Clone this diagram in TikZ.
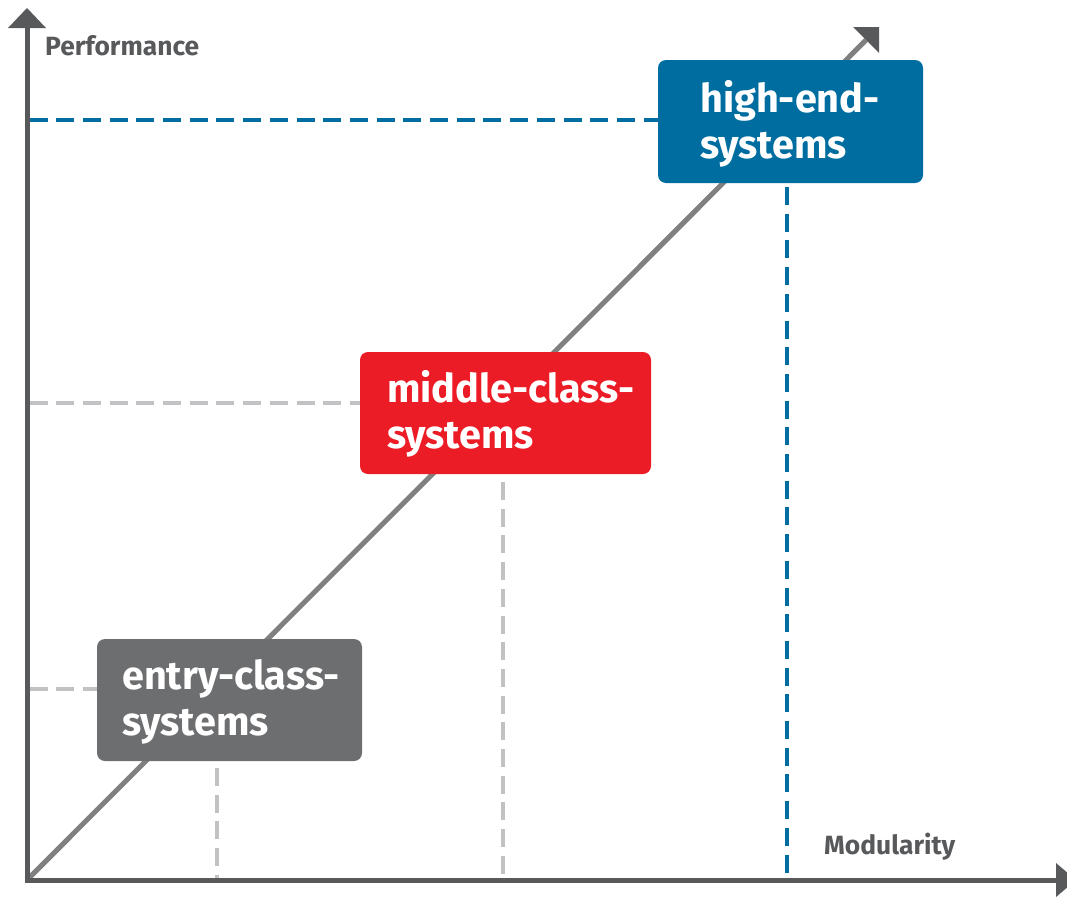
\documentclass[tikz,border=0pt]{standalone}
\usepackage{fontspec}
\setmainfont{Fira Sans}
\definecolor{axisgray}{HTML}{58595B}
\definecolor{diaggray}{HTML}{808080}
\definecolor{lightgray}{HTML}{C2C2C4}
\definecolor{hiblue}{HTML}{006DA0}
\definecolor{midred}{HTML}{EC1C27}
\definecolor{entrygray}{HTML}{6D6E70}
\begin{document}
\begin{tikzpicture}[x=1pt,y=-1pt,
  axis/.style={line width=5pt, draw=axisgray},
  guide/.style={line width=3.8pt, dash pattern=on 18pt off 8.7pt},
  box/.style={rounded corners=8pt, inner sep=0pt},
  boxtext/.style={anchor=base west, font=\fontsize{39.6}{46}\selectfont\bfseries, text=white, inner sep=0pt, align=left},
  axlabel/.style={font=\fontsize{26.4}{30}\selectfont\bfseries, text=axisgray, inner sep=0pt, anchor=base west}]
\useasboundingbox (0,0) rectangle (1067,897);
\clip (0,0) rectangle (1067,897);
% coordinates
\coordinate (O) at (27,880);
\coordinate (ytop) at (27,27);
\coordinate (xend) at (1056,880);
\coordinate (dend) at (866,40);
% guides
\draw[guide, draw=hiblue] (29.5,120) -- (658,120);
\draw[guide, draw=hiblue] (787,187) -- (787,878);
\draw[guide, draw=lightgray] (29.5,403) -- (360,403);
\draw[guide, draw=lightgray] (503,482) -- (503,878);
\draw[guide, draw=lightgray] (29.5,689) -- (97,689);
\draw[guide, draw=lightgray] (217,768) -- (217,878);
% diagonal
\draw[line width=5pt, draw=diaggray] (O) -- (dend);
\fill[axisgray] (853,27) -- (879,27) -- (879,53) -- cycle;
% axes
\draw[axis] (27,882.5) -- (ytop);
\fill[axisgray] (8,28) -- (46,28) -- (27,8) -- cycle;
\draw[axis] (24.5,880) -- (xend);
\fill[axisgray] (1056,863) -- (1056,897) -- (1076,880) -- cycle;
% labels
\node[axlabel] (perf) at (45,55) {Performance};
\node[axlabel] (modu) at (824,854) {Modularity};
% boxes
\fill[box, hiblue] (658,60) rectangle (923,183);
\node[boxtext] (hi) at (700,158) {high-end-\\systems};
\fill[box, midred] (360,352) rectangle (651,474);
\node[boxtext] (mid) at (387,448) {middle-class-\\systems};
\fill[box, entrygray] (97,639) rectangle (362,761);
\node[boxtext] (entry) at (122,735) {entry-class-\\systems};
\end{tikzpicture}
\end{document}
